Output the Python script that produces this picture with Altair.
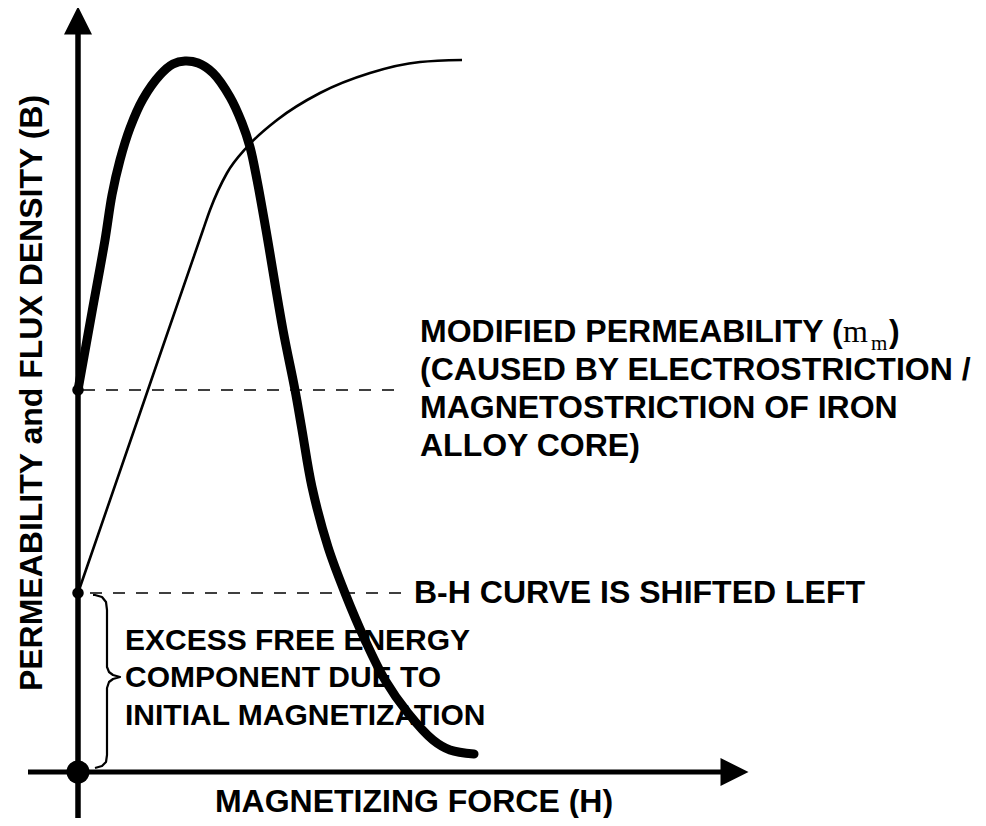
import altair as alt
import pandas as pd

# ---- data (units: H and B, origin at axes intersection) ----
perm_h = [0.00, 0.14, 0.27, 0.34, 0.42, 0.52, 0.65, 0.82, 0.95, 1.07, 1.20, 1.35, 1.52, 1.64, 1.72, 1.79,
          1.88, 2.05, 2.17, 2.24, 2.34, 2.50, 2.67, 2.87, 3.07, 3.30, 3.55, 3.72, 3.96]
perm_b = [3.82, 4.60, 5.32, 5.77, 6.12, 6.44, 6.73, 6.97, 7.08, 7.11, 7.09, 6.99, 6.75, 6.49, 6.25, 5.92,
          5.42, 4.42, 3.82, 3.42, 2.85, 2.25, 1.79, 1.32, 0.92, 0.59, 0.32, 0.22, 0.18]

bh_h = [0.00, 0.62, 1.25, 1.32, 1.49, 1.69, 1.99, 2.42, 2.92, 3.42, 3.84]
bh_b = [1.79, 3.59, 5.42, 5.62, 5.99, 6.25, 6.52, 6.79, 6.99, 7.10, 7.12]

levels_b = [3.82, 1.79]          # modified permeability level, shifted B-H level
dash_start = [0.05, 0.12]
dash_end = [3.27, 3.27]

brace_h = [0.15, 0.17, 0.24, 0.28, 0.29, 0.29, 0.31, 0.35, 0.42, 0.35, 0.31, 0.29, 0.29, 0.28, 0.24, 0.17]
brace_b = [1.77, 1.77, 1.75, 1.70, 1.62, 1.05, 1.00, 0.97, 0.95, 0.93, 0.90, 0.84, 0.17, 0.10, 0.06, 0.04]

x_axis_end = 6.43
y_axis_end = 7.38
x_min, x_max = -0.70, 9.00
y_min, y_max = -0.46, 7.64

modified_lines = ["MODIFIED PERMEABILITY (", "(CAUSED BY ELECTROSTRICTION /",
                  "MAGNETOSTRICTION OF IRON", "ALLOY CORE)"]
modified_b = [4.30, 3.92, 3.54, 3.16]
modified_h = 3.42

excess_lines = ["EXCESS FREE ENERGY", "COMPONENT DUE TO", "INITIAL MAGNETIZATION"]
excess_b = [1.22, 0.85, 0.47]
excess_h = 0.47

shift_label = "B-H CURVE IS SHIFTED LEFT"
shift_h, shift_b = 3.36, 1.69

x_title = "MAGNETIZING FORCE (H)"
x_title_pos = (3.36, -0.40)
y_title = "PERMEABILITY and FLUX DENSITY (B)"
y_title_pos = (-0.36, 3.79)

FONT = "Liberation Sans"

xs = alt.Scale(domain=[x_min, x_max], nice=False, zero=False)
ys = alt.Scale(domain=[y_min, y_max], nice=False, zero=False)


def X(f):
    return alt.X(f, type="quantitative", scale=xs, axis=None)


def Y(f):
    return alt.Y(f, type="quantitative", scale=ys, axis=None)


perm_df = pd.DataFrame({"h": perm_h, "b": perm_b})
bh_df = pd.DataFrame({"h": bh_h, "b": bh_b})
brace_df = pd.DataFrame({"h": brace_h, "b": brace_b, "i": list(range(len(brace_h)))})
dash_df = pd.DataFrame({"h": dash_start, "h2": dash_end, "b": levels_b})

axes_v = pd.DataFrame({"h": [0.0], "b": [y_min], "b2": [y_axis_end]})
axes_h = pd.DataFrame({"h": [-0.50], "h2": [x_axis_end], "b": [0.0]})

up_arrow = pd.DataFrame({"h": [0.0], "b": [y_axis_end + 0.135]})
right_arrow = pd.DataFrame({"h": [x_axis_end + 0.135], "b": [0.0]})

small_dots = pd.DataFrame({"h": [0.0, 0.0], "b": levels_b})
origin_dot = pd.DataFrame({"h": [0.0], "b": [0.0]})

mod_df = pd.DataFrame({"t": modified_lines, "h": [modified_h] * 4, "b": modified_b})
exc_df = pd.DataFrame({"t": excess_lines, "h": [excess_h] * 3, "b": excess_b})
mu_df = pd.DataFrame({"h": [modified_h], "b": [modified_b[0]]})

layers = []

layers.append(alt.Chart(axes_v).mark_rule(color="black", strokeWidth=5.5).encode(
    x=X("h"), y=Y("b"), y2="b2"))
layers.append(alt.Chart(axes_h).mark_rule(color="black", strokeWidth=5).encode(
    x=X("h"), x2="h2", y=Y("b")))
layers.append(alt.Chart(up_arrow).mark_point(
    shape="M0,-1L-1,1L1,1Z", filled=True, size=784, color="black", opacity=1, strokeWidth=0
).encode(x=X("h"), y=Y("b")))
layers.append(alt.Chart(right_arrow).mark_point(
    shape="M1,0L-1,-1L-1,1Z", filled=True, size=784, color="black", opacity=1, strokeWidth=0
).encode(x=X("h"), y=Y("b")))

layers.append(alt.Chart(dash_df).mark_rule(color="black", strokeWidth=1.6, strokeDash=[12, 11]).encode(
    x=X("h"), x2="h2", y=Y("b")))

layers.append(alt.Chart(bh_df).mark_line(color="black", strokeWidth=2.6, interpolate="monotone").encode(
    x=X("h"), y=Y("b")))
layers.append(alt.Chart(perm_df).mark_line(color="black", strokeWidth=9, interpolate="catmull-rom",
                                           strokeCap="round", strokeJoin="round").encode(
    x=X("h"), y=Y("b")))

layers.append(alt.Chart(brace_df).mark_line(color="black", strokeWidth=2.2, interpolate="linear",
                                            strokeJoin="round").encode(
    x=X("h"), y=Y("b"), order="i:Q"))

layers.append(alt.Chart(small_dots).mark_circle(color="black", opacity=1, size=133).encode(
    x=X("h"), y=Y("b")))
layers.append(alt.Chart(origin_dot).mark_circle(color="black", opacity=1, size=531).encode(
    x=X("h"), y=Y("b")))

# text
txt = dict(font=FONT, fontWeight="bold", color="black", align="left", baseline="alphabetic")
layers.append(alt.Chart(mod_df).mark_text(fontSize=32, **txt).encode(x=X("h"), y=Y("b"), text="t:N"))
layers.append(alt.Chart(mu_df).mark_text(fontSize=32, font="Liberation Serif", color="black",
                                         align="left", baseline="alphabetic", dx=423).encode(
    x=X("h"), y=Y("b"), text=alt.value("m")))
layers.append(alt.Chart(mu_df).mark_text(fontSize=21, font="Liberation Serif", color="black",
                                         align="left", baseline="alphabetic", dx=451, dy=8).encode(
    x=X("h"), y=Y("b"), text=alt.value("m")))
layers.append(alt.Chart(mu_df).mark_text(fontSize=32, dx=469, **txt).encode(
    x=X("h"), y=Y("b"), text=alt.value(")")))

layers.append(alt.Chart(exc_df).mark_text(fontSize=30, **txt).encode(x=X("h"), y=Y("b"), text="t:N"))
layers.append(alt.Chart(pd.DataFrame({"h": [shift_h], "b": [shift_b], "t": [shift_label]})).mark_text(
    fontSize=32, **txt).encode(x=X("h"), y=Y("b"), text="t:N"))

layers.append(alt.Chart(pd.DataFrame({"h": [x_title_pos[0]], "b": [x_title_pos[1]], "t": [x_title]})).mark_text(
    fontSize=32, font=FONT, fontWeight="bold", color="black", align="center", baseline="alphabetic").encode(
    x=X("h"), y=Y("b"), text="t:N"))
layers.append(alt.Chart(pd.DataFrame({"h": [y_title_pos[0]], "b": [y_title_pos[1]], "t": [y_title]})).mark_text(
    fontSize=32, font=FONT, fontWeight="bold", color="black", align="center", baseline="alphabetic",
    angle=270).encode(x=X("h"), y=Y("b"), text="t:N"))

chart = alt.layer(*layers).properties(
    width=970, height=810, autosize=alt.AutoSizeParams(type="none"), padding=0, background="white"
).configure_view(stroke=None)

chart.save("out.html", embed_options={"renderer": "svg", "actions": False})
